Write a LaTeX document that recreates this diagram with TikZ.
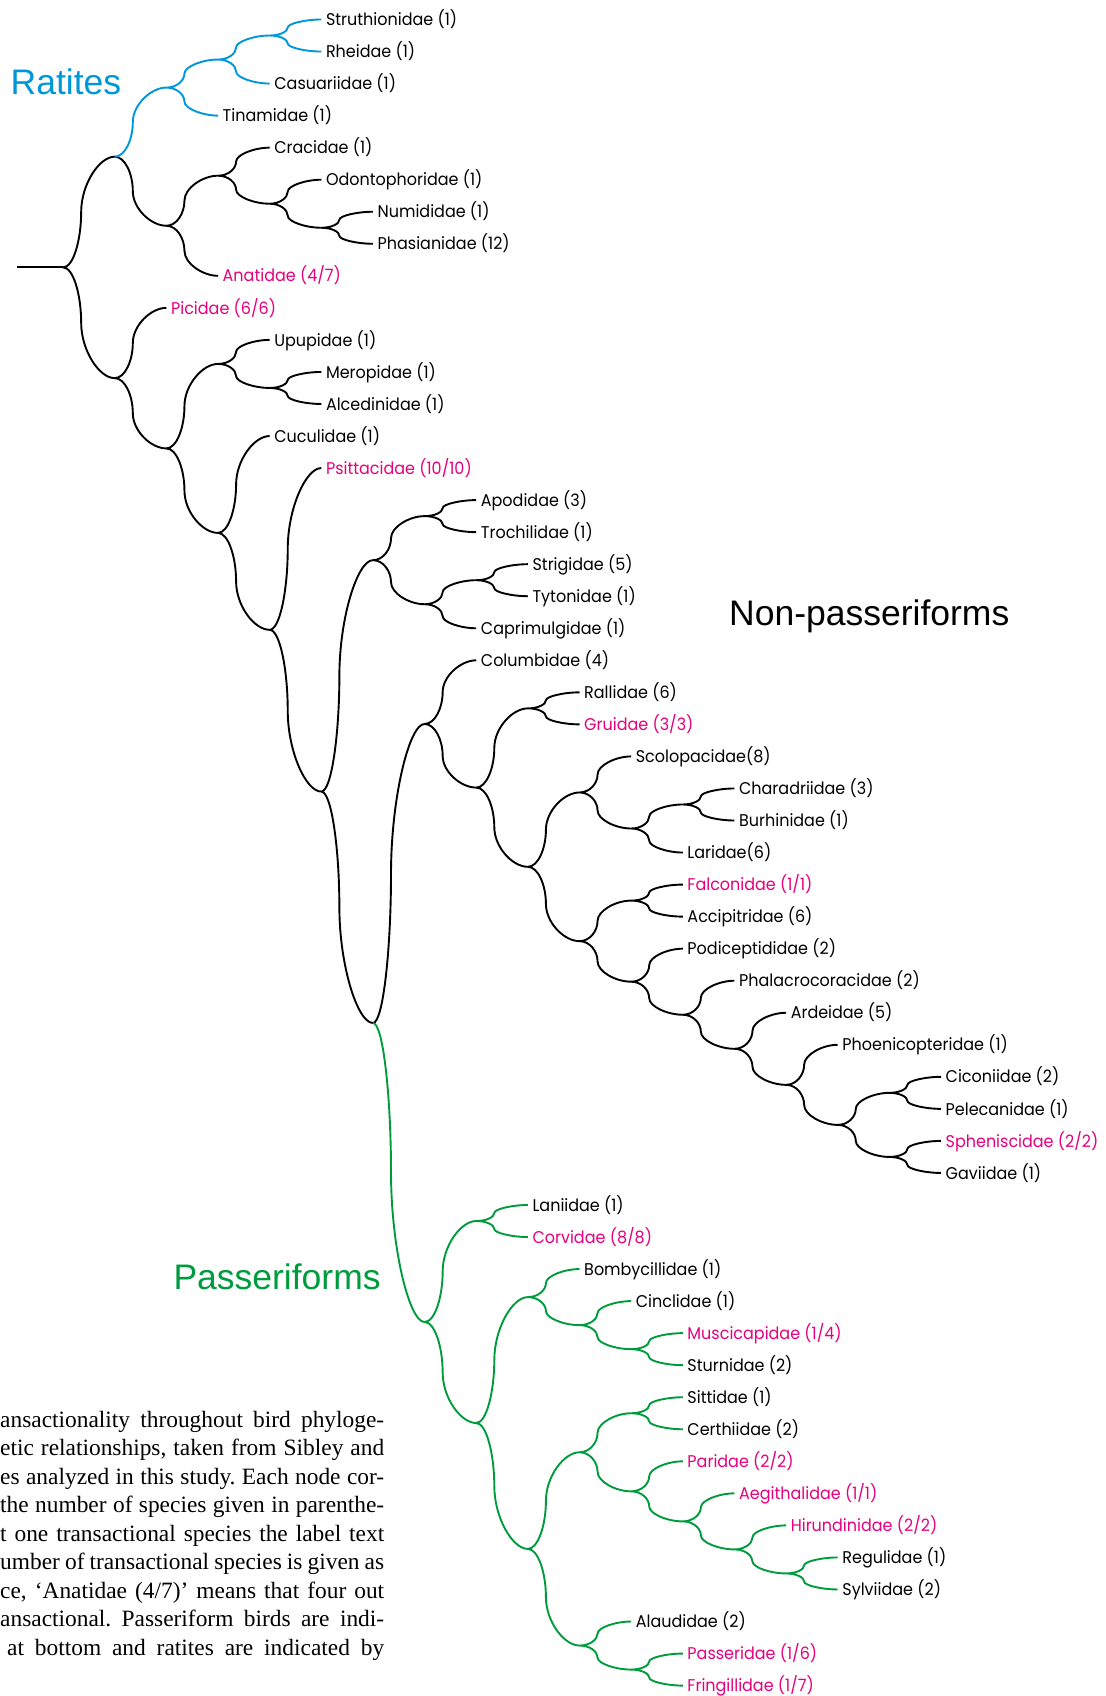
\documentclass[tikz,border=0pt]{standalone}
\usepackage{fontspec}
\usetikzlibrary{calc}
\setmainfont{Liberation Sans}
\newfontfamily\labfont{Poppins}[FakeStretch=0.94]
\newfontfamily\bigfont{Liberation Sans}
\newfontfamily\capfont{Liberation Serif}
\definecolor{ratblue}{RGB}{0,150,218}
\definecolor{passgreen}{RGB}{0,155,60}
\definecolor{transpink}{RGB}{230,0,126}
\frenchspacing
\tikzset{
  br/.style={to path={
    let \p1=(\tikztostart), \p2=(\tikztotarget), \n1={\x2-\x1}, \n2={\y2-\y1} in
    .. controls (\x1+0.2*\n1, \y1) and (\x1+0.35*\n1, \y1+0.25*\n2) .. (\x1+0.35*\n1, \y1+0.5*\n2)
    .. controls (\x1+0.35*\n1, \y1+0.75*\n2) and (\x1+0.7*\n1, \y2) .. (\tikztotarget)
  }},
  tree/.style={line width=1.9pt},
  lab/.style={anchor=west, inner xsep=4.5pt, inner ysep=0pt, text height=12.3pt, text depth=0pt,
    font=\labfont\fontsize{17}{20}\selectfont},
  trans/.style={lab, text=transpink},
  big/.style={anchor=base west, inner sep=0pt, font=\bigfont\fontsize{35.5}{40}\selectfont},
  capline/.style={anchor=base west, inner sep=0pt, font=\capfont\fontsize{23.4}{28}\selectfont\frenchspacing},
}
\begin{document}
\begin{tikzpicture}
\useasboundingbox (0,0) rectangle (1105pt,-1696pt);
\begin{scope}[shift={(63.1pt,12.54pt)}, x=51.64pt, y=-32.04pt]
% internal nodes
\coordinate (rootstart) at (-0.8972, 8.7374115);
\coordinate (root) at (0, 8.7374115);
\coordinate (N1) at (1, 5.28125);
\coordinate (RA) at (2, 3.125);
\coordinate (A) at (3, 2.25);
\coordinate (B) at (4, 1.5);
\coordinate (G) at (2, 7.4375);
\coordinate (G1) at (3, 5.875);
\coordinate (G2) at (4, 6.75);
\coordinate (G3) at (5, 7.5);
\coordinate (N2) at (1, 12.193573);
\coordinate (N3) at (2, 14.387146);
\coordinate (U) at (3, 11.75);
\coordinate (U2) at (4, 12.5);
\coordinate (N4) at (3, 17.024292);
\coordinate (N5) at (4, 20.048584);
\coordinate (N6) at (5, 25.097168);
\coordinate (N7) at (6, 17.875);
\coordinate (N8) at (7, 16.5);
\coordinate (N9) at (7, 19.25);
\coordinate (N10) at (8, 18.5);
\coordinate (N11) at (6, 32.319336);
\coordinate (N12) at (7, 22.986328);
\coordinate (N13) at (8, 24.972656);
\coordinate (N14) at (9, 22.5);
\coordinate (N15) at (9, 27.445313);
\coordinate (N16) at (10, 25.125);
\coordinate (N17) at (11, 26.25);
\coordinate (N18) at (12, 25.5);
\coordinate (N19) at (10, 29.765625);
\coordinate (N20) at (11, 28.5);
\coordinate (N21) at (11, 31.03125);
\coordinate (N22) at (12, 32.0625);
\coordinate (N23) at (13, 33.125);
\coordinate (N24) at (14, 34.25);
\coordinate (N25) at (15, 35.5);
\coordinate (N26) at (16, 34.5);
\coordinate (N27) at (16, 36.5);
\coordinate (P0) at (7, 41.652344);
\coordinate (P1) at (8, 38.5);
\coordinate (P2) at (8, 44.804688);
\coordinate (P3) at (9, 40.875);
\coordinate (P4) at (10, 41.75);
\coordinate (P5) at (11, 42.5);
\coordinate (P6) at (9, 48.734375);
\coordinate (P7) at (10, 45.71875);
\coordinate (P8) at (11, 44.5);
\coordinate (P9) at (11, 46.9375);
\coordinate (P10) at (12, 47.875);
\coordinate (P11) at (13, 48.75);
\coordinate (P12) at (14, 49.5);
\coordinate (P13) at (10, 51.75);
\coordinate (P14) at (11, 52.5);
% leaves
\node[lab] (struthionidae) at (5,1) {Struthionidae (1)};
\node[lab] (rheidae) at (5,2) {Rheidae (1)};
\node[lab] (casuariidae) at (4,3) {Casuariidae (1)};
\node[lab] (tinamidae) at (3,4) {Tinamidae (1)};
\node[lab] (cracidae) at (4,5) {Cracidae (1)};
\node[lab] (odontophoridae) at (5,6) {Odontophoridae (1)};
\node[lab] (numididae) at (6,7) {Numididae (1)};
\node[lab] (phasianidae) at (6,8) {Phasianidae (12)};
\node[trans] (anatidae) at (3,9) {Anatidae (4/7)};
\node[trans] (picidae) at (2,10) {Picidae (6/6)};
\node[lab] (upupidae) at (4,11) {Upupidae (1)};
\node[lab] (meropidae) at (5,12) {Meropidae (1)};
\node[lab] (alcedinidae) at (5,13) {Alcedinidae (1)};
\node[lab] (cuculidae) at (4,14) {Cuculidae (1)};
\node[trans] (psittacidae) at (5,15) {Psittacidae (10/10)};
\node[lab] (apodidae) at (8,16) {Apodidae (3)};
\node[lab] (trochilidae) at (8,17) {Trochilidae (1)};
\node[lab] (strigidae) at (9,18) {Strigidae (5)};
\node[lab] (tytonidae) at (9,19) {Tytonidae (1)};
\node[lab] (caprimulgidae) at (8,20) {Caprimulgidae (1)};
\node[lab] (columbidae) at (8,21) {Columbidae (4)};
\node[lab] (rallidae) at (10,22) {Rallidae (6)};
\node[trans] (gruidae) at (10,23) {Gruidae (3/3)};
\node[lab] (scolopacidae) at (11,24) {Scolopacidae(8)};
\node[lab] (charadriidae) at (13,25) {Charadriidae (3)};
\node[lab] (burhinidae) at (13,26) {Burhinidae (1)};
\node[lab] (laridae) at (12,27) {Laridae(6)};
\node[trans] (falconidae) at (12,28) {Falconidae (1/1)};
\node[lab] (accipitridae) at (12,29) {Accipitridae (6)};
\node[lab] (podiceptididae) at (12,30) {Podiceptididae (2)};
\node[lab] (phalacrocoracidae) at (13,31) {Phalacrocoracidae (2)};
\node[lab] (ardeidae) at (14,32) {Ardeidae (5)};
\node[lab] (phoenicopteridae) at (15,33) {Phoenicopteridae (1)};
\node[lab] (ciconiidae) at (17,34) {Ciconiidae (2)};
\node[lab] (pelecanidae) at (17,35) {Pelecanidae (1)};
\node[trans] (spheniscidae) at (17,36) {Spheniscidae (2/2)};
\node[lab] (gaviidae) at (17,37) {Gaviidae (1)};
\node[lab] (laniidae) at (9,38) {Laniidae (1)};
\node[trans] (corvidae) at (9,39) {Corvidae (8/8)};
\node[lab] (bombycillidae) at (10,40) {Bombycillidae (1)};
\node[lab] (cinclidae) at (11,41) {Cinclidae (1)};
\node[trans] (muscicapidae) at (12,42) {Muscicapidae (1/4)};
\node[lab] (sturnidae) at (12,43) {Sturnidae (2)};
\node[lab] (sittidae) at (12,44) {Sittidae (1)};
\node[lab] (certhiidae) at (12,45) {Certhiidae (2)};
\node[trans] (paridae) at (12,46) {Paridae (2/2)};
\node[trans] (aegithalidae) at (13,47) {Aegithalidae (1/1)};
\node[trans] (hirundinidae) at (14,48) {Hirundinidae (2/2)};
\node[lab] (regulidae) at (15,49) {Regulidae (1)};
\node[lab] (sylviidae) at (15,50) {Sylviidae (2)};
\node[lab] (alaudidae) at (11,51) {Alaudidae (2)};
\node[trans] (passeridae) at (12,52) {Passeridae (1/6)};
\node[trans] (fringillidae) at (12,53) {Fringillidae (1/7)};
\end{scope}

% black branches
\draw[tree] (rootstart) -- (root);
\draw[tree]
 (root) to[br] (N1)  (root) to[br] (N2)
 (N1) to[br] (G)
 (G) to[br] (G1)  (G) to[br] (anatidae.west)
 (G1) to[br] (cracidae.west)  (G1) to[br] (G2)
 (G2) to[br] (odontophoridae.west)  (G2) to[br] (G3)
 (G3) to[br] (numididae.west)  (G3) to[br] (phasianidae.west)
 (N2) to[br] (picidae.west)  (N2) to[br] (N3)
 (N3) to[br] (U)  (N3) to[br] (N4)
 (U) to[br] (upupidae.west)  (U) to[br] (U2)
 (U2) to[br] (meropidae.west)  (U2) to[br] (alcedinidae.west)
 (N4) to[br] (cuculidae.west)  (N4) to[br] (N5)
 (N5) to[br] (psittacidae.west)  (N5) to[br] (N6)
 (N6) to[br] (N7)  (N6) to[br] (N11)
 (N7) to[br] (N8)  (N7) to[br] (N9)
 (N8) to[br] (apodidae.west)  (N8) to[br] (trochilidae.west)
 (N9) to[br] (N10)  (N9) to[br] (caprimulgidae.west)
 (N10) to[br] (strigidae.west)  (N10) to[br] (tytonidae.west)
 (N11) to[br] (N12)
 (N12) to[br] (columbidae.west)  (N12) to[br] (N13)
 (N13) to[br] (N14)  (N13) to[br] (N15)
 (N14) to[br] (rallidae.west)  (N14) to[br] (gruidae.west)
 (N15) to[br] (N16)  (N15) to[br] (N19)
 (N16) to[br] (scolopacidae.west)  (N16) to[br] (N17)
 (N17) to[br] (N18)  (N17) to[br] (laridae.west)
 (N18) to[br] (charadriidae.west)  (N18) to[br] (burhinidae.west)
 (N19) to[br] (N20)  (N19) to[br] (N21)
 (N20) to[br] (falconidae.west)  (N20) to[br] (accipitridae.west)
 (N21) to[br] (podiceptididae.west)  (N21) to[br] (N22)
 (N22) to[br] (phalacrocoracidae.west)  (N22) to[br] (N23)
 (N23) to[br] (ardeidae.west)  (N23) to[br] (N24)
 (N24) to[br] (phoenicopteridae.west)  (N24) to[br] (N25)
 (N25) to[br] (N26)  (N25) to[br] (N27)
 (N26) to[br] (ciconiidae.west)  (N26) to[br] (pelecanidae.west)
 (N27) to[br] (spheniscidae.west)  (N27) to[br] (gaviidae.west);

% ratites (blue)
\draw[tree, ratblue]
 (N1) to[br] (RA)
 (RA) to[br] (A)  (RA) to[br] (tinamidae.west)
 (A) to[br] (B)  (A) to[br] (casuariidae.west)
 (B) to[br] (struthionidae.west)  (B) to[br] (rheidae.west);

% passeriforms (green)
\draw[tree, passgreen]
 (N11) to[br] (P0)
 (P0) to[br] (P1)  (P0) to[br] (P2)
 (P1) to[br] (laniidae.west)  (P1) to[br] (corvidae.west)
 (P2) to[br] (P3)  (P2) to[br] (P6)
 (P3) to[br] (bombycillidae.west)  (P3) to[br] (P4)
 (P4) to[br] (cinclidae.west)  (P4) to[br] (P5)
 (P5) to[br] (muscicapidae.west)  (P5) to[br] (sturnidae.west)
 (P6) to[br] (P7)  (P6) to[br] (P13)
 (P7) to[br] (P8)  (P7) to[br] (P9)
 (P8) to[br] (sittidae.west)  (P8) to[br] (certhiidae.west)
 (P9) to[br] (paridae.west)  (P9) to[br] (P10)
 (P10) to[br] (aegithalidae.west)  (P10) to[br] (P11)
 (P11) to[br] (hirundinidae.west)  (P11) to[br] (P12)
 (P12) to[br] (regulidae.west)  (P12) to[br] (sylviidae.west)
 (P13) to[br] (alaudidae.west)  (P13) to[br] (P14)
 (P14) to[br] (passeridae.west)  (P14) to[br] (fringillidae.west);

% group labels
\node[big, text=ratblue] (ratites) at (10.5pt,-94.3pt) {Ratites};
\node[big] (nonpass) at (729pt,-625pt) {Non-passeriforms};
\node[big, text=passgreen] (passeriforms) at (173.3pt,-1289.3pt) {Passeriforms};

% caption fragment
\node[capline] (cap1) at (0pt,-1427pt) {\makebox[384pt][s]{ansactionality throughout bird phyloge-}};
\node[capline] (cap2) at (0pt,-1455.55pt) {\makebox[384pt][s]{etic relationships, taken from Sibley and}};
\node[capline] (cap3) at (0pt,-1484.1pt) {\makebox[384pt][s]{es analyzed in this study. Each node cor-}};
\node[capline] (cap4) at (0pt,-1512.65pt) {\makebox[384pt][s]{the number of species given in parenthe-}};
\node[capline] (cap5) at (0pt,-1541.2pt) {\makebox[384pt][s]{t one transactional species the label text}};
\node[capline] (cap6) at (0pt,-1569.75pt) {\makebox[384pt][s]{umber of transactional species is given as}};
\node[capline] (cap7) at (0pt,-1598.3pt) {\makebox[384pt][s]{ce, ‘Anatidae (4/7)’ means that four out}};
\node[capline] (cap8) at (0pt,-1626.85pt) {\makebox[384pt][s]{ansactional. Passeriform birds are indi-}};
\node[capline] (cap9) at (7pt,-1655.4pt) {\makebox[377pt][s]{at bottom and ratites are indicated by}};
\end{tikzpicture}
\end{document}
